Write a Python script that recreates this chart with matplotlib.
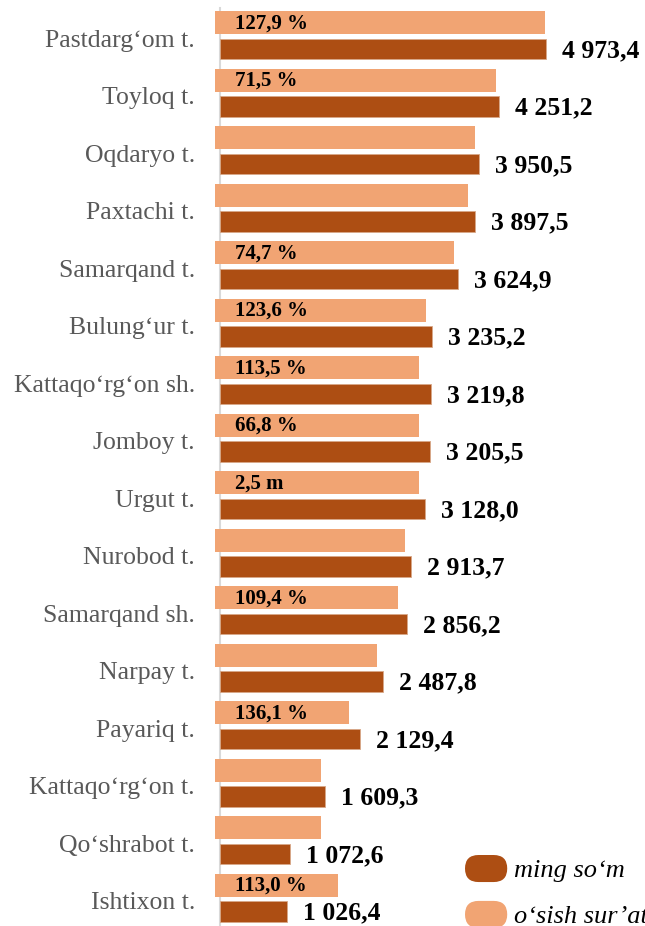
#imports
import numpy as np
import matplotlib.pyplot as plt
from matplotlib.patches import FancyBboxPatch
from matplotlib.legend_handler import HandlerPatch

#data
districts = ["Pastdarg‘om t.", "Toyloq t.", "Oqdaryo t.", "Paxtachi t.", "Samarqand t.",
             "Bulung‘ur t.", "Kattaqo‘rg‘on sh.", "Jomboy t.", "Urgut t.", "Nurobod t.",
             "Samarqand sh.", "Narpay t.", "Payariq t.", "Kattaqo‘rg‘on t.", "Qo‘shrabot t.",
             "Ishtixon t."]
ming_som = [4973.4, 4251.2, 3950.5, 3897.5, 3624.9, 3235.2, 3219.8, 3205.5,
            3128.0, 2913.7, 2856.2, 2487.8, 2129.4, 1609.3, 1072.6, 1026.4]
osish_bar = [4958, 4211, 3890, 3783, 3570, 3143, 3036, 3036,
             3036, 2822, 2716, 2395, 1968, 1541, 1541, 1800]
osish_labels = ["127,9 %", "71,5 %", "", "", "74,7 %", "123,6 %", "113,5 %", "66,8 %",
                "2,5 m", "", "109,4 %", "", "136,1 %", "", "", "113,0 %"]

#style
dark = '#AD4E13'
light = '#F1A473'
serif = ['Liberation Serif', 'DejaVu Serif']
plt.rcParams['font.family'] = serif


#rounded legend handles
class RoundHandler(HandlerPatch):
    def create_artists(self, legend, orig_handle, xdescent, ydescent, width, height, fontsize, trans):
        r = height / 2
        p = FancyBboxPatch((-xdescent + r, -ydescent + r), width - 2 * r, height - 2 * r,
                           boxstyle=f"round,pad={r},rounding_size={r}",
                           facecolor=orig_handle.get_facecolor(), edgecolor='none',
                           transform=trans)
        return [p]


fig = plt.figure(figsize=(6.45, 9.26), dpi=100)
ax = fig.add_axes([220 / 645, 0, 425 / 645, 1 - 8 / 926])

y = np.arange(len(districts))
off = 76  # light bars start a bit left of the axis

b1 = ax.barh(y, ming_som, height=0.348, color=dark, edgecolor='#D8A888', linewidth=0.6,
             label='ming so‘m', zorder=3)
b2 = ax.barh(y - 0.46, np.array(osish_bar) + off, left=-off, height=0.40, color=light,
             label='o‘sish sur’ati', zorder=3, clip_on=False)

#value labels
for yi, v in zip(y, ming_som):
    txt = f"{v:,.1f}".replace(',', ' ').replace('.', ',')
    ax.annotate(txt, (v, yi), xytext=(11.5, -1), textcoords='offset points',
                va='center', ha='left', fontsize=18.5, fontweight='bold', color='black',
                annotation_clip=False)

for yi, t in zip(y, osish_labels):
    if t:
        ax.annotate(t, (0, yi - 0.46), xytext=(11, -0.5), textcoords='offset points',
                    va='center', ha='left', fontsize=15, fontweight='bold', color='black',
                    zorder=5)

ax.set_xlim(0, 425 / 0.06555)
ax.set_ylim((926 - 49) / 57.5, (8 - 49) / 57.5)
ax.set_yticks(y - 0.19)
ax.set_yticklabels(districts, fontsize=18.5, color='#595959')
ax.tick_params(axis='y', length=0, pad=18)
ax.set_xticks([])
for s in ['top', 'right', 'bottom']:
    ax.spines[s].set_visible(False)
ax.spines['left'].set_color('#D9D9D9')
ax.spines['left'].set_linewidth(1.5)
ax.spines['left'].set_zorder(1)

leg = ax.legend(handles=[b1.patches[0], b2.patches[0]], labels=['ming so‘m', 'o‘sish sur’ati'],
                handler_map={b1.patches[0]: RoundHandler(), b2.patches[0]: RoundHandler()},
                loc='upper left', bbox_to_anchor=(465 / 645, 1 - 855 / 926),
                bbox_transform=fig.transFigure, frameon=False, borderpad=0, borderaxespad=0,
                handlelength=1.6, handleheight=1.2, handletextpad=0.25, labelspacing=0.7,
                prop={'family': serif, 'style': 'italic', 'size': 19})

fig.savefig('out.png', dpi=100)
